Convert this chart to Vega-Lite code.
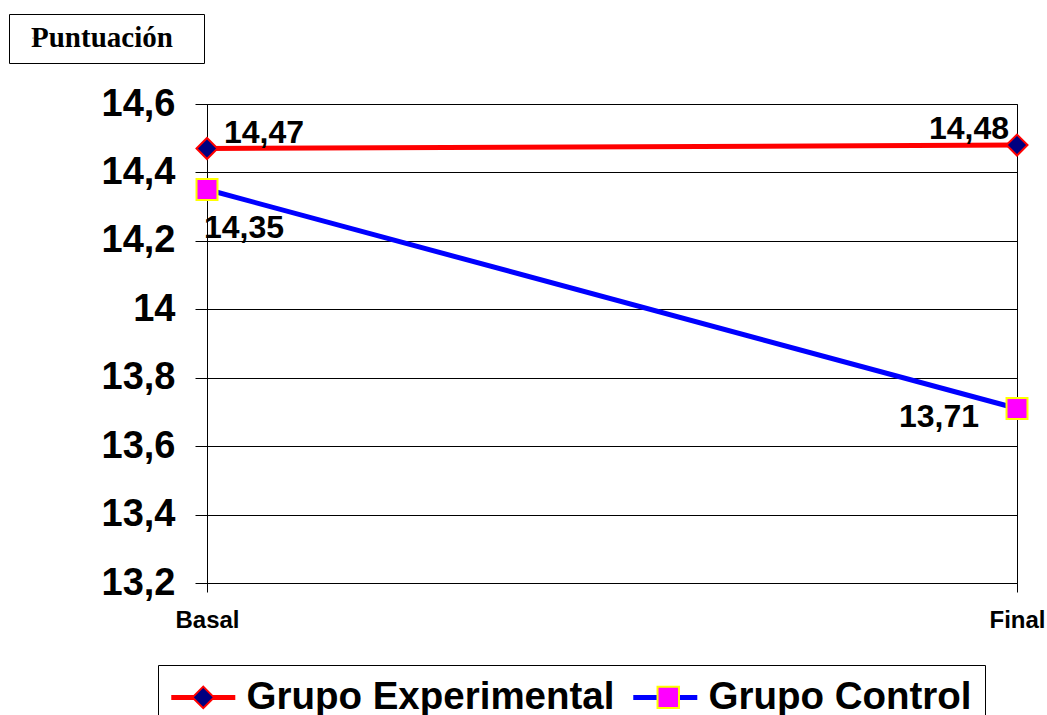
{
  "$schema": "https://vega.github.io/schema/vega-lite/v6.json",
  "autosize": {"type": "none"},
  "width": 810,
  "height": 479,
  "padding": {"left": 207, "top": 104, "right": 30, "bottom": 132},
  "background": "white",
  "config": {
    "locale": {"number": {"decimal": ",", "thousands": ".", "grouping": [3], "currency": ["", " €"]}},
    "view": {"stroke": "black", "strokeWidth": 1},
    "font": "Liberation Sans"
  },
  "data": {
    "values": [
      {"momento": "Basal", "grupo": "Grupo Experimental", "valor": 14.47},
      {"momento": "Final", "grupo": "Grupo Experimental", "valor": 14.48},
      {"momento": "Basal", "grupo": "Grupo Control", "valor": 14.35},
      {"momento": "Final", "grupo": "Grupo Control", "valor": 13.71}
    ]
  },
  "encoding": {
    "x": {
      "field": "momento", "type": "ordinal", "sort": ["Basal", "Final"],
      "scale": {"type": "point", "padding": 0},
      "axis": {"title": null, "labelAngle": 0, "labelFontSize": 24, "labelFontWeight": "bold", "labelFont": "Liberation Sans", "labelColor": "black", "labelPadding": 16, "tickSize": 9, "tickColor": "black", "domainColor": "black", "grid": false}
    },
    "y": {
      "field": "valor", "type": "quantitative",
      "scale": {"domain": [13.2, 14.6], "nice": false, "zero": false},
      "axis": {"title": null, "values": [13.2, 13.4, 13.6, 13.8, 14, 14.2, 14.4, 14.6], "format": ".3~g", "labelFontSize": 38, "labelFontWeight": "bold", "labelFont": "Liberation Sans", "labelColor": "black", "labelPadding": 20, "tickSize": 12, "tickColor": "black", "domainColor": "black", "grid": true, "gridColor": "black", "gridOpacity": 1}
    }
  },
  "layer": [
    {
      "mark": {"type": "line", "strokeWidth": 5},
      "encoding": {
        "color": {
          "field": "grupo", "type": "nominal", "sort": ["Grupo Experimental", "Grupo Control"],
          "scale": {"range": ["#ff0000", "#0000ff"]},
          "legend": {"orient": "none", "legendX": -49, "legendY": 561, "direction": "horizontal", "title": null, "padding": 13, "strokeColor": "black", "symbolType": "M-1.15,0L2.73,0", "symbolSize": 1089, "symbolStrokeWidth": 5, "labelFontSize": 38.5, "labelFont": "Liberation Sans", "labelFontWeight": "bold", "labelColor": "black", "labelOffset": 37, "labelLimit": 0, "columnPadding": 8}
        }
      }
    },
    {
      "mark": {"type": "point", "filled": true, "size": 440, "strokeWidth": 2, "opacity": 1},
      "encoding": {
        "fill": {"field": "grupo", "type": "nominal", "scale": {"domain": ["Grupo Experimental", "Grupo Control"], "range": ["#000080", "#ff00ff"]},
          "legend": {"orient": "none", "legendX": -49, "legendY": 561, "direction": "horizontal", "title": null, "padding": 13, "symbolSize": 460, "symbolOffset": 13, "symbolStrokeWidth": 2, "symbolOpacity": 1, "labelFontSize": 38.5, "labelFont": "Liberation Sans", "labelFontWeight": "bold", "labelColor": "transparent", "labelOffset": 37, "labelLimit": 0, "columnPadding": 8}},
        "stroke": {"field": "grupo", "type": "nominal", "scale": {"domain": ["Grupo Experimental", "Grupo Control"], "range": ["#ff0000", "#ffff00"]}},
        "shape": {"field": "grupo", "type": "nominal", "scale": {"domain": ["Grupo Experimental", "Grupo Control"], "range": ["diamond", "square"]}}
      }
    },
    {
      "transform": [{"filter": "datum.grupo === 'Grupo Experimental' && datum.momento === 'Basal'"}],
      "mark": {"type": "text", "fontSize": 32, "fontWeight": "bold", "font": "Liberation Sans", "color": "black", "align": "left", "baseline": "middle", "dx": 17, "dy": -15},
      "encoding": {
        "text": {"field": "valor", "type": "quantitative", "format": ".2f"},
        "opacity": {"datum": "Puntuación", "type": "nominal", "scale": {"range": [1]},
          "legend": {"orient": "none", "legendX": -198, "legendY": -90, "title": null, "padding": 9.5, "strokeColor": "black", "symbolFillColor": "transparent", "symbolStrokeColor": "transparent", "symbolSize": 1, "labelExpr": "'Puntuación\u2800'", "labelFont": "Liberation Serif", "labelFontSize": 29, "labelFontWeight": "bold", "labelColor": "black", "labelOffset": -16.5, "labelLimit": 0,
            "encode": {"labels": {"dy": {"value": 5.5}}}}}
      }
    },
    {
      "transform": [{"filter": "datum.grupo === 'Grupo Experimental' && datum.momento === 'Final'"}],
      "mark": {"type": "text", "fontSize": 32, "fontWeight": "bold", "font": "Liberation Sans", "color": "black", "align": "right", "baseline": "middle", "dx": -8, "dy": -16},
      "encoding": {"text": {"field": "valor", "type": "quantitative", "format": ".2f"}}
    },
    {
      "transform": [{"filter": "datum.grupo === 'Grupo Control' && datum.momento === 'Basal'"}],
      "mark": {"type": "text", "fontSize": 32, "fontWeight": "bold", "font": "Liberation Sans", "color": "black", "align": "left", "baseline": "middle", "dx": -3, "dy": 38},
      "encoding": {"text": {"field": "valor", "type": "quantitative", "format": ".2f"}}
    },
    {
      "transform": [{"filter": "datum.grupo === 'Grupo Control' && datum.momento === 'Final'"}],
      "mark": {"type": "text", "fontSize": 32, "fontWeight": "bold", "font": "Liberation Sans", "color": "black", "align": "right", "baseline": "middle", "dx": -38, "dy": 8},
      "encoding": {"text": {"field": "valor", "type": "quantitative", "format": ".2f"}}
    }
  ]
}
